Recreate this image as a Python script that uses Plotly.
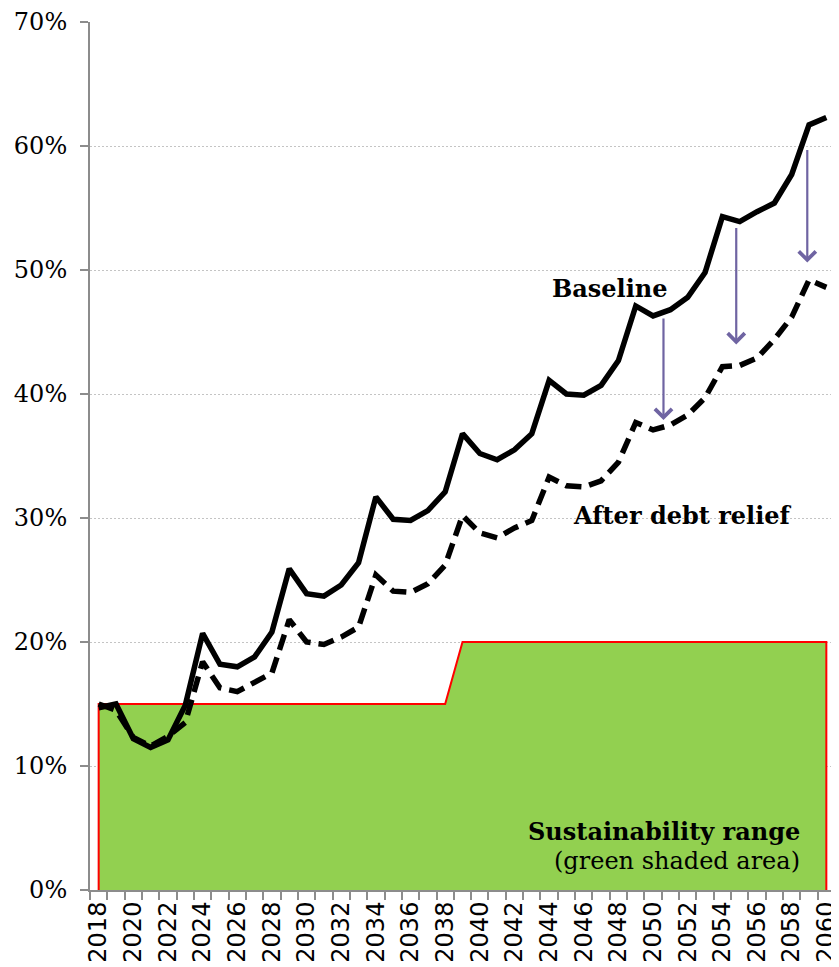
import plotly.graph_objects as go

# ---- data ----
years = list(range(2018, 2061))

baseline = [14.7, 15.0, 12.2, 11.5, 12.1, 14.9, 20.7, 18.2, 18.0, 18.8,
            20.8, 25.9, 23.9, 23.7, 24.6, 26.4, 31.7, 29.9, 29.8, 30.6,
            32.1, 36.8, 35.2, 34.7, 35.5, 36.8, 41.1, 40.0, 39.9, 40.7,
            42.7, 47.1, 46.3, 46.8, 47.8, 49.8, 54.3, 53.9, 54.7, 55.4,
            57.7, 61.7, 62.3]

after_relief = [15.0, 14.5, 12.3, 11.6, 12.4, 13.5, 18.4, 16.3, 16.0, 16.7,
                17.5, 21.8, 20.0, 19.8, 20.4, 21.2, 25.4, 24.1, 24.0, 24.7,
                26.2, 30.2, 28.8, 28.4, 29.2, 29.8, 33.3, 32.6, 32.5, 33.0,
                34.5, 37.7, 37.1, 37.5, 38.3, 39.7, 42.2, 42.3, 42.9, 44.4,
                46.2, 49.2, 48.6]

# sustainability threshold: 15% up to 2038, 20% from 2039
threshold = [15 if y <= 2038 else 20 for y in years]

# arrows: (x, from, to)
arrow_x = [2050.6, 2054.8, 2058.9]
arrow_from = [46.2, 53.5, 59.8]
arrow_to = [37.9, 44.0, 50.6]

label_years = list(range(2018, 2061, 2))
y_ticks = list(range(0, 71, 10))

SERIF = "DejaVu Serif"
AX = "#8c8c8c"

fig = go.Figure()

# green shaded sustainability range (closed polygon)
fig.add_trace(go.Scatter(
    x=[years[0]] + years + [years[-1]],
    y=[0] + threshold + [0],
    mode="lines", fill="toself", fillcolor="#92D050",
    line=dict(color="#FF0000", width=2),
    hoverinfo="skip", showlegend=False,
))

fig.add_trace(go.Scatter(
    x=years, y=after_relief, mode="lines", name="After debt relief",
    line=dict(color="black", width=5.5, dash="16px,8px"),
    showlegend=False,
))
fig.add_trace(go.Scatter(
    x=years, y=baseline, mode="lines", name="Baseline",
    line=dict(color="black", width=5.5),
    showlegend=False,
))

for x, y0, y1 in zip(arrow_x, arrow_from, arrow_to):
    fig.add_annotation(
        x=x, y=y1, ax=x, ay=y0, xref="x", yref="y", axref="x", ayref="y",
        text="", showarrow=True, arrowhead=4, arrowsize=1.5,
        arrowwidth=2.2, arrowcolor="#6F64A2", standoff=0,
    )

fig.add_annotation(x=2047.5, y=48.5, text="<b>Baseline</b>", showarrow=False,
                   font=dict(family=SERIF, size=24, color="black"))
fig.add_annotation(x=2051.7, y=30.2, text="<b>After debt relief</b>", showarrow=False,
                   font=dict(family=SERIF, size=24, color="black"))
fig.add_annotation(x=2058.6, y=4.7, text="<b>Sustainability range</b>", showarrow=False,
                   xanchor="right", font=dict(family=SERIF, size=24, color="black"))
fig.add_annotation(x=2058.6, y=2.3, text="(green shaded area)", showarrow=False,
                   xanchor="right", font=dict(family=SERIF, size=24, color="black"))

# the page body adds an 8px margin, so the figure is made 8px smaller
fig.update_layout(
    width=831, height=959,
    margin=dict(l=82, r=4, t=14, b=77),
    plot_bgcolor="white", paper_bgcolor="white",
    showlegend=False,
    xaxis=dict(
        range=[2017.5, 2060.5], tickvals=label_years,
        ticktext=[str(y) for y in label_years],
        tickangle=-90, ticks="", showgrid=False, zeroline=False,
        ticklabeloverflow="allow",
        showline=True, linecolor=AX, linewidth=2,
        tickfont=dict(family="DejaVu Sans", size=24, color="black"),
        minor=dict(ticks="outside", ticklen=8, tickcolor=AX, tickwidth=1.5,
                   tick0=2017.5, dtick=1, showgrid=False),
        automargin=False,
    ),
    yaxis=dict(
        range=[0, 70], tickvals=y_ticks,
        ticktext=[f"{v}%" for v in y_ticks],
        ticks="outside", ticklen=8, tickcolor=AX, tickwidth=1.5,
        ticklabelstandoff=8,
        showline=True, linecolor=AX, linewidth=2,
        showgrid=True, gridcolor="#c4c4c4", griddash="2px,2px", gridwidth=1,
        zeroline=False,
        tickfont=dict(family=SERIF, size=24, color="black"),
        automargin=False,
    ),
)

fig.write_html("out.html")
